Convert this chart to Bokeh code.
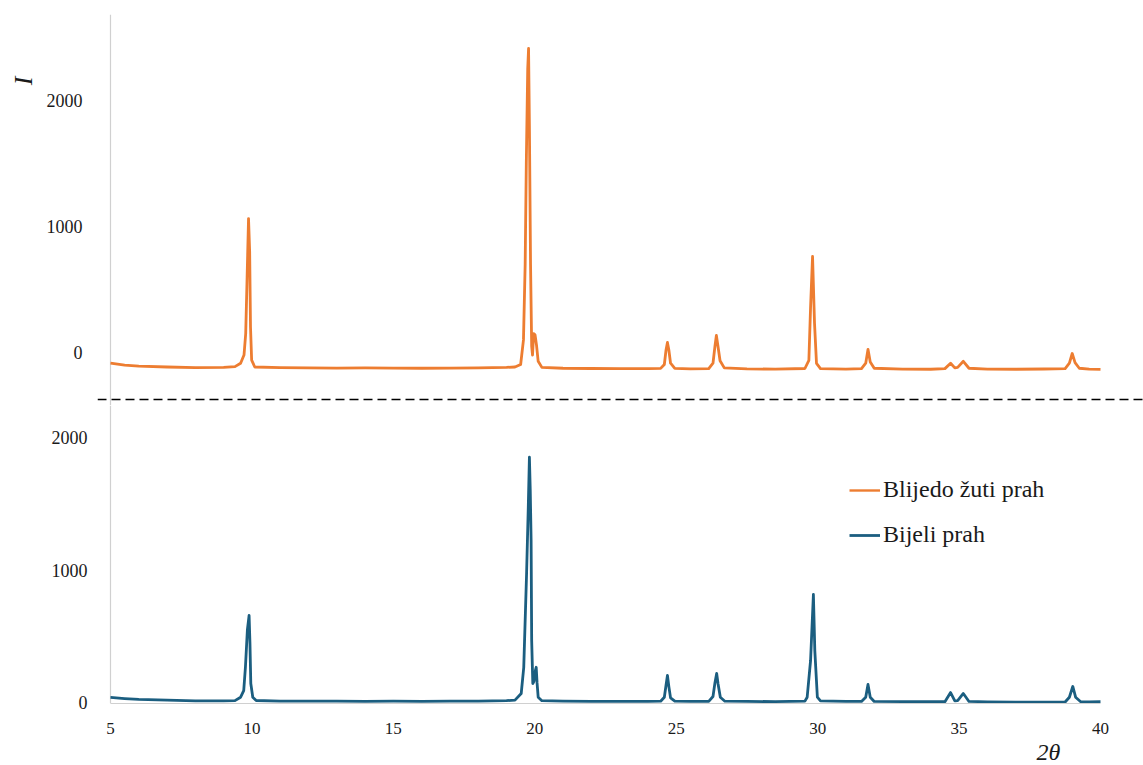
import numpy as np
from bokeh.plotting import figure
from bokeh.models import Span, Legend, LegendItem, FixedTicker, Range1d, Title
from bokeh.layouts import column
from bokeh.embed import file_html
from bokeh.resources import INLINE

# ---------------- data ----------------
two_theta_yellow = [5.0, 5.5, 6.0, 7.0, 8.0, 9.0, 9.40, 9.60, 9.72, 9.78,
                    9.83, 9.88, 9.92, 9.95, 9.99, 10.10, 11.0, 12.0, 13.0, 14.0,
                    15.0, 16.0, 17.0, 18.0, 19.0, 19.30, 19.50, 19.60, 19.66, 19.70,
                    19.75, 19.78, 19.81, 19.85, 19.89, 19.92, 19.96, 20.01, 20.06, 20.12,
                    20.25, 21.0, 22.0, 23.0, 24.0, 24.45, 24.58, 24.64, 24.69, 24.74,
                    24.80, 24.95, 25.5, 26.15, 26.30, 26.37, 26.42, 26.47, 26.55, 26.70,
                    27.5, 28.5, 29.55, 29.69, 29.75, 29.82, 29.89, 29.96, 30.10, 31.0,
                    31.55, 31.70, 31.78, 31.86, 32.00, 33.0, 34.0, 34.50, 34.70, 34.85,
                    34.95, 35.15, 35.35, 36.0, 37.0, 38.0, 38.75, 38.90, 39.00, 39.10,
                    39.25, 39.6, 40.0]
intensity_yellow = [-85, -100, -108, -115, -120, -118, -112, -85, -20, 150,
                    600, 1063, 800, 200, -60, -115, -120, -122, -124, -122,
                    -124, -125, -124, -122, -118, -115, -95, 100, 700, 1500,
                    2250, 2413, 1800, 700, 50, -20, 150, 140, 60, -70,
                    -118, -125, -127, -128, -128, -126, -95, 20, 80, 20,
                    -85, -126, -130, -128, -85, 50, 135, 60, -65, -122,
                    -130, -132, -127, -63, 360, 762, 230, -87, -128, -132,
                    -128, -85, 25, -75, -125, -132, -133, -128, -85, -122,
                    -118, -70, -125, -132, -133, -131, -128, -85, -8, -80,
                    -125, -132, -134]

two_theta_white = [5.0, 5.5, 6.0, 7.0, 8.0, 9.0, 9.40, 9.60, 9.71, 9.77,
                   9.84, 9.90, 9.93, 9.96, 10.03, 10.15, 11.0, 12.0, 13.0, 14.0,
                   15.0, 16.0, 17.0, 18.0, 19.0, 19.30, 19.52, 19.61, 19.71, 19.77,
                   19.81, 19.84, 19.87, 19.89, 19.93, 19.97, 20.02, 20.05, 20.08, 20.12,
                   20.25, 21.0, 22.0, 23.0, 24.0, 24.45, 24.58, 24.64, 24.69, 24.74,
                   24.80, 24.95, 25.5, 26.15, 26.30, 26.37, 26.43, 26.48, 26.56, 26.72,
                   27.5, 28.5, 29.55, 29.63, 29.75, 29.85, 29.90, 29.99, 30.10, 31.0,
                   31.55, 31.70, 31.78, 31.86, 32.00, 33.0, 34.0, 34.50, 34.70, 34.85,
                   34.95, 35.15, 35.35, 36.0, 37.0, 38.0, 38.75, 38.90, 39.02, 39.12,
                   39.30, 39.6, 40.0]
intensity_white = [38, 30, 24, 18, 13, 12, 14, 40, 90, 266,
                   550, 657, 450, 143, 40, 15, 11, 10, 10, 9,
                   10, 9, 10, 11, 14, 18, 68, 266, 973, 1474,
                   1851, 1600, 1223, 468, 143, 160, 240, 266, 150, 40,
                   14, 10, 9, 8, 9, 10, 40, 130, 204, 120,
                   35, 10, 8, 9, 45, 150, 219, 140, 40, 10,
                   8, 7, 10, 40, 317, 815, 392, 40, 12, 8,
                   8, 40, 136, 40, 8, 7, 6, 6, 75, 12,
                   15, 68, 8, 5, 3, 2, 4, 40, 121, 40,
                   6, 5, 6]

x_ticks = [5, 10, 15, 20, 25, 30, 35, 40]
y_ticks = [0, 1000, 2000]
series_names = ["Blijedo žuti prah", "Bijeli prah"]
x_title = "2θ"
y_title = "I"

# ---------------- styling ----------------
ORANGE = "#ED7D31"
BLUE = "#1B5E80"
AXIS_GREY = "#d0d0d0"
TEXT = "#1a1a1a"
FONT = "Liberation Serif"

x_range = Range1d(4.5404, 41.5202)


def style(p, standoff):
    p.grid.visible = False
    p.outline_line_color = None
    p.background_fill_color = "white"
    p.border_fill_color = "white"
    ax = p.yaxis[0]
    ax.ticker = FixedTicker(ticks=y_ticks)
    ax.axis_line_color = None
    ax.major_tick_line_color = None
    ax.minor_tick_line_color = None
    ax.major_label_standoff = standoff
    ax.major_label_text_font = FONT
    ax.major_label_text_font_size = "18px"
    ax.major_label_text_color = TEXT


# ---------- top panel ----------
top = figure(width=1143, height=405, x_range=x_range, y_range=Range1d(-420.6, 2682.5),
             output_backend="svg", toolbar_location=None, x_axis_location=None,
             min_border_left=97, min_border_right=0, min_border_top=14, min_border_bottom=0)
style(top, 9)
top.add_layout(Span(location=two_theta_yellow[0], dimension="height",
                    line_color=AXIS_GREY, line_width=1.2, level="underlay"))
top.line(two_theta_yellow, intensity_yellow, line_color=ORANGE, line_width=2.8,
         line_join="round")
top.add_layout(Span(location=-373, dimension="width", line_color="black",
                    line_width=1.6, line_dash="9 5"))
top.add_layout(Title(text=y_title, align="right", offset=62, standoff=12,
                     text_font=FONT, text_font_style="italic", text_font_size="26px",
                     text_color=TEXT), "left")

# ---------- bottom panel ----------
bottom = figure(width=1143, height=360, x_range=x_range, y_range=Range1d(-7.5, 2241.5),
                output_backend="svg", toolbar_location=None,
                min_border_left=97, min_border_right=0, min_border_top=0, min_border_bottom=62)
style(bottom, 4)
bottom.add_layout(Span(location=two_theta_white[0], dimension="height",
                       line_color=AXIS_GREY, line_width=1.2, level="underlay"))
xa = bottom.xaxis[0]
xa.ticker = FixedTicker(ticks=x_ticks)
xa.bounds = (x_ticks[0], x_ticks[-1])
xa.axis_line_color = AXIS_GREY
xa.axis_line_width = 1.2
xa.major_tick_line_color = None
xa.minor_tick_line_color = None
xa.major_label_standoff = 13
xa.major_label_text_font = FONT
xa.major_label_text_font_size = "17px"
xa.major_label_text_color = TEXT

legend_yellow = bottom.line(x=np.array([np.nan]), y=np.array([np.nan]),
                            line_color=ORANGE, line_width=2.4)
white_line = bottom.line(two_theta_white, intensity_white, line_color=BLUE,
                         line_width=2.8, line_join="round")

legend = Legend(items=[LegendItem(label=series_names[0], renderers=[legend_yellow]),
                       LegendItem(label=series_names[1], renderers=[white_line])],
                location=(752, 155), padding=0, margin=0, spacing=18,
                glyph_width=31, glyph_height=24, label_height=24, label_standoff=3,
                label_text_font=FONT, label_text_font_size="24px",
                label_text_color=TEXT, border_line_color=None,
                background_fill_alpha=0)
bottom.add_layout(legend)

bottom.add_layout(Title(text=x_title, align="left", offset=939, standoff=0,
                        text_font=FONT, text_font_style="italic", text_font_size="24px",
                        text_color=TEXT), "below")

layout = column(top, bottom, spacing=0)
open("out.html", "w").write(file_html(layout, INLINE))
